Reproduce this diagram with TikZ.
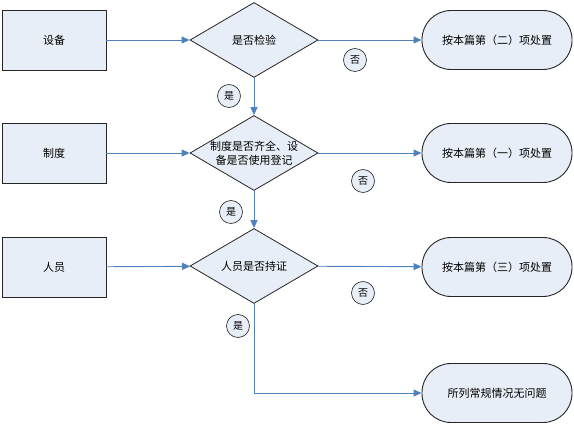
\documentclass[tikz,border=0pt]{standalone}
\usepackage{fontspec}
\newfontfamily\cjk{Noto Sans CJK SC}
\usetikzlibrary{calc}
\usetikzlibrary{arrows.meta}
\usetikzlibrary{shapes.geometric}

\definecolor{boxfill}{HTML}{E8EEF7}
\definecolor{flowline}{HTML}{4F81BD}

\tikzset{
  inbox/.style={draw=black!85, line width=0.9pt, fill=boxfill, minimum width=104pt, minimum height=60pt, inner sep=0pt, font=\cjk\fontsize{11}{13}\selectfont},
  askbox/.style={diamond, draw=black!85, line width=0.8pt, fill=boxfill, aspect=1.71, minimum width=128pt, minimum height=75pt, inner sep=0pt, align=center, font=\cjk\fontsize{11}{14}\selectfont},
  endbox/.style={draw=black!85, line width=0.9pt, fill=boxfill, rounded corners=29pt, minimum width=150pt, minimum height=59pt, inner sep=0pt, font=\cjk\fontsize{11}{13}\selectfont},
  tag/.style={circle, draw=black!85, line width=0.6pt, fill=boxfill, minimum size=23pt, inner sep=0pt, font=\cjk\fontsize{10}{11}\selectfont},
  flow/.style={draw=flowline, line width=0.9pt, -{Triangle[length=8pt,width=7pt]}}
}

\begin{document}
\begin{tikzpicture}[x=1pt, y=-1pt]
    \useasboundingbox (0,0) rectangle (574,425);
    % left column
    \node[inbox] (shebei) at (54,40) {设备};
    \node[inbox] (zhidu) at (54,153) {制度};
    \node[inbox] (renyuan) at (54,267) {人员};
    % checks
    \node[askbox] (jianyan) at (254,40) {是否检验};
    \node[askbox, text width=90pt, inner xsep=-6pt] (dengji) at (254,153) {制度是否齐全、设\\备是否使用登记};
    \node[askbox] (chizheng) at (254,266) {人员是否持证};
    % results
    \node[endbox] (chuzhi2) at (497,40) {按本篇第（二）项处置};
    \node[endbox] (chuzhi1) at (497,153) {按本篇第（一）项处置};
    \node[endbox] (chuzhi3) at (497,267) {按本篇第（三）项处置};
    \node[endbox] (wuwenti) at (497,393) {所列常规情况无问题};
    % connectors
    \draw[flow] (shebei) -- (jianyan);
    \draw[flow] (zhidu) -- (dengji);
    \draw[flow] (renyuan) -- (chizheng);
    \draw[flow] (jianyan) -- (chuzhi2);
    \draw[flow] (dengji) -- (chuzhi1);
    \draw[flow] (chizheng) -- (chuzhi3);
    \draw[flow] (jianyan) -- (dengji);
    \draw[flow] (dengji) -- (chizheng);
    \draw[flow] (chizheng.south) |- (wuwenti.west);
    % yes / no tags
    \node[tag] (shi1) at (229,96) {是};
    \node[tag] (shi2) at (231,212) {是};
    \node[tag] (shi3) at (238,326) {是};
    \node[tag] (fou1) at (355,60) {否};
    \node[tag] (fou2) at (363,181) {否};
    \node[tag] (fou3) at (363,293) {否};
  \end{tikzpicture}
\end{document}
